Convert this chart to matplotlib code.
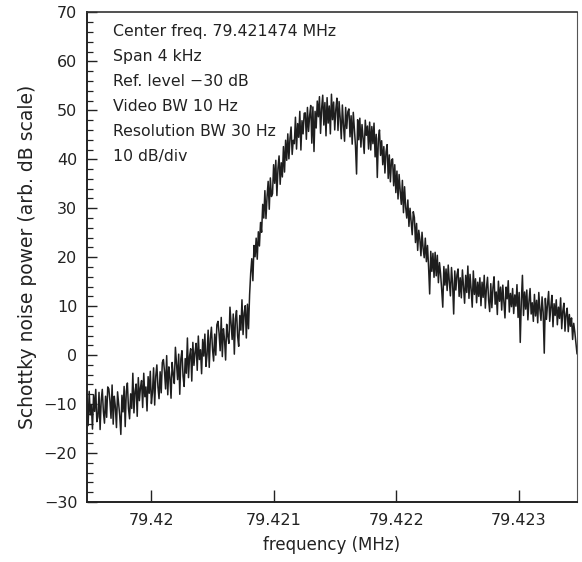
import numpy as np
import matplotlib
matplotlib.use("Agg")
import matplotlib.pyplot as plt
from matplotlib.ticker import MultipleLocator

# analyzer settings
center_mhz = 79.421474
span_khz = 4.0

settings = [
    "Center freq. 79.421474 MHz",
    "Span 4 kHz",
    "Ref. level \u221230 dB",
    "Video BW 10 Hz",
    "Resolution BW 30 Hz",
    "10 dB/div",
]

tick_freqs = [79.420, 79.421, 79.422, 79.423]
tick_labels = ["79.42", "79.421", "79.422", "79.423"]

# trace samples (dB), left to right across the span
power = [
    -8.9, -14.4, -7.4, -12.2, -10.2, -15.1, -8.1, -11.5, -7.0, -13.6,
    -12.6, -7.6, -15.2, -9.3, -7.0, -11.5, -13.9, -8.4, -12.7, -6.5,
    -6.9, -9.3, -12.9, -6.1, -14.1, -8.4, -10.6, -14.8, -7.5, -9.9,
    -12.4, -16.2, -8.2, -11.6, -6.4, -14.6, -7.4, -5.7, -10.9, -13.0,
    -7.9, -10.9, -3.7, -11.8, -7.4, -5.9, -12.5, -4.6, -9.3, -6.6,
    -5.2, -10.7, -3.7, -8.5, -6.5, -11.4, -4.4, -7.8, -3.3, -9.9,
    -7.6, -2.6, -10.2, -4.3, -2.0, -6.5, -8.9, -3.4, -7.7, -1.5,
    -0.9, -3.3, -6.9, -0.1, -8.1, -2.4, -4.6, -8.8, -1.5, -3.9,
    -5.8, 1.6, -1.6, -5.0, 0.2, -8.0, -0.8, 0.9, -4.3, -6.4,
    -0.7, -3.7, 3.5, -4.6, -0.2, 1.3, -5.3, 2.6, -2.1, 0.6,
    2.4, -3.1, 3.9, -0.9, 1.1, -3.8, 3.2, -0.2, 4.3, -2.3,
    0.1, 5.1, -2.5, 3.4, 5.7, 1.2, -1.2, 4.3, 0.0, 6.2,
    6.9, 4.5, 0.9, 7.7, -0.3, 5.4, 3.2, -1.0, 6.3, 3.9,
    2.4, 9.8, 6.6, 3.2, 8.4, 0.2, 7.4, 9.1, 3.9, 1.8,
    8.1, 5.1, 11.3, 4.2, 8.6, 10.1, 3.5, 10.4, 5.4, 12.4,
    16.8, 19.7, 15.2, 22.4, 20.1, 23.9, 19.6, 25.2, 22.3, 27.1,
    25.1, 30.8, 28.0, 33.6, 27.9, 32.4, 35.5, 29.8, 36.2, 32.4,
    33.0, 38.9, 35.1, 39.8, 32.6, 38.2, 40.7, 34.9, 39.3, 36.4,
    42.6, 37.4, 43.9, 39.8, 45.2, 40.1, 44.3, 46.6, 41.0, 43.9,
    43.2, 48.6, 42.1, 47.3, 44.5, 49.8, 41.9, 47.9, 45.2, 49.4,
    49.5, 44.1, 50.6, 45.7, 48.9, 51.0, 43.3, 50.7, 41.6, 49.8,
    46.4, 51.9, 48.7, 52.8, 45.3, 50.4, 53.1, 47.0, 51.6, 44.8,
    52.6, 47.4, 50.9, 45.2, 53.3, 48.1, 51.7, 46.0, 50.2, 52.5,
    45.9, 51.8, 48.4, 44.2, 51.1, 47.0, 43.7, 50.6, 46.3, 49.7,
    50.3, 44.6, 48.9, 43.1, 49.6, 46.2, 42.8, 37.0, 48.1, 44.0,
    48.4, 42.5, 47.1, 44.3, 41.2, 48.0, 44.9, 46.8, 42.1, 47.6,
    41.9, 46.7, 43.2, 47.4, 40.5, 45.1, 36.3, 44.2, 46.0, 40.8,
    43.8, 38.9, 42.6, 37.2, 41.5, 43.0, 36.1, 40.9, 35.4, 39.8,
    40.1, 34.6, 38.9, 33.2, 37.6, 31.9, 36.9, 33.5, 30.8, 35.7,
    29.1, 34.4, 30.2, 28.0, 31.7, 26.3, 30.0, 27.4, 24.6, 29.3,
    28.1, 23.0, 26.9, 21.4, 25.5, 23.7, 20.3, 25.1, 21.8, 19.9,
    23.9, 19.1, 22.4, 18.0, 12.5, 21.2, 17.1, 20.8, 15.9, 21.0,
    16.2, 20.4, 14.8, 18.9, 16.6, 13.4, 9.8, 18.1, 14.3, 17.6,
    13.2, 18.4, 15.0, 12.1, 17.9, 14.6, 8.4, 17.2, 13.3, 16.4,
    17.6, 12.0, 15.8, 11.7, 17.4, 13.9, 10.6, 16.3, 12.8, 18.2,
    11.6, 16.5, 13.4, 9.8, 17.2, 12.4, 15.6, 10.7, 14.9, 12.0,
    15.8, 10.1, 14.9, 11.8, 16.3, 9.6, 13.7, 15.9, 11.2, 8.9,
    14.6, 9.7, 13.8, 16.0, 10.4, 12.9, 8.3, 15.1, 11.0, 13.9,
    9.2, 14.3, 10.8, 7.6, 13.9, 11.5, 15.2, 8.8, 12.6, 9.9,
    13.6, 8.5, 12.3, 10.0, 14.4, 7.7, 12.8, 2.6, 11.1, 16.3,
    8.1, 12.9, 9.4, 13.3, 7.2, 11.0, 13.6, 8.4, 10.7, 6.9,
    12.4, 8.0, 11.2, 6.6, 12.8, 9.3, 7.1, 11.9, 8.7, 0.4,
    11.6, 7.3, 10.4, 13.0, 6.9, 9.8, 12.2, 5.8, 10.5, 8.1,
    11.3, 6.2, 9.8, 7.5, 11.7, 5.4, 9.0, 10.6, 4.9, 8.4,
    9.6, 4.8, 8.3, 5.9, 7.6, 3.2, 6.5, 4.7, 2.6, 0.3,
]

f_lo = center_mhz - span_khz / 2 * 1e-3
f_hi = center_mhz + span_khz / 2 * 1e-3
freq = np.linspace(f_lo, f_hi, len(power))

plt.rcParams["font.family"] = "DejaVu Sans"
ink = "#222222"

fig = plt.figure(figsize=(5.82, 5.62), dpi=100)
ax = fig.add_axes([0.1495, 0.1068, 0.8419, 0.871])

ax.plot(freq, power, color="#1e1e1e", lw=1.1)

ax.set_xlim(f_lo, f_hi)
ax.set_ylim(-30, 70)
ax.yaxis.set_major_locator(MultipleLocator(10))
ax.yaxis.set_minor_locator(MultipleLocator(2))
ax.set_xticks(tick_freqs)
ax.set_xticklabels(tick_labels)

ax.tick_params(axis="y", which="major", direction="in", length=7.5, width=1.0,
               labelsize=11.5, pad=7, colors=ink)
ax.tick_params(axis="y", which="minor", direction="in", length=4.5, width=0.9,
               colors=ink)
ax.tick_params(axis="x", which="major", direction="in", length=9, width=1.0,
               labelsize=11.5, pad=8, colors=ink)

for side in ["left", "bottom"]:
    ax.spines[side].set_linewidth(1.4)
    ax.spines[side].set_color(ink)
ax.spines["top"].set_linewidth(1.2)
ax.spines["top"].set_color("#333333")
ax.spines["right"].set_linewidth(0.8)
ax.spines["right"].set_color("#555555")

ax.set_xlabel("frequency (MHz)", fontsize=12, color=ink, labelpad=6)
ax.set_ylabel("Schottky noise power (arb. dB scale)", fontsize=13.5,
              color=ink, labelpad=5)

for k, line in enumerate(settings):
    ax.text(0.053, 0.962 - k * 0.0511, line, transform=ax.transAxes,
            fontsize=11.3, color=ink, va="center", ha="left")

fig.savefig("out.png", dpi=100)
